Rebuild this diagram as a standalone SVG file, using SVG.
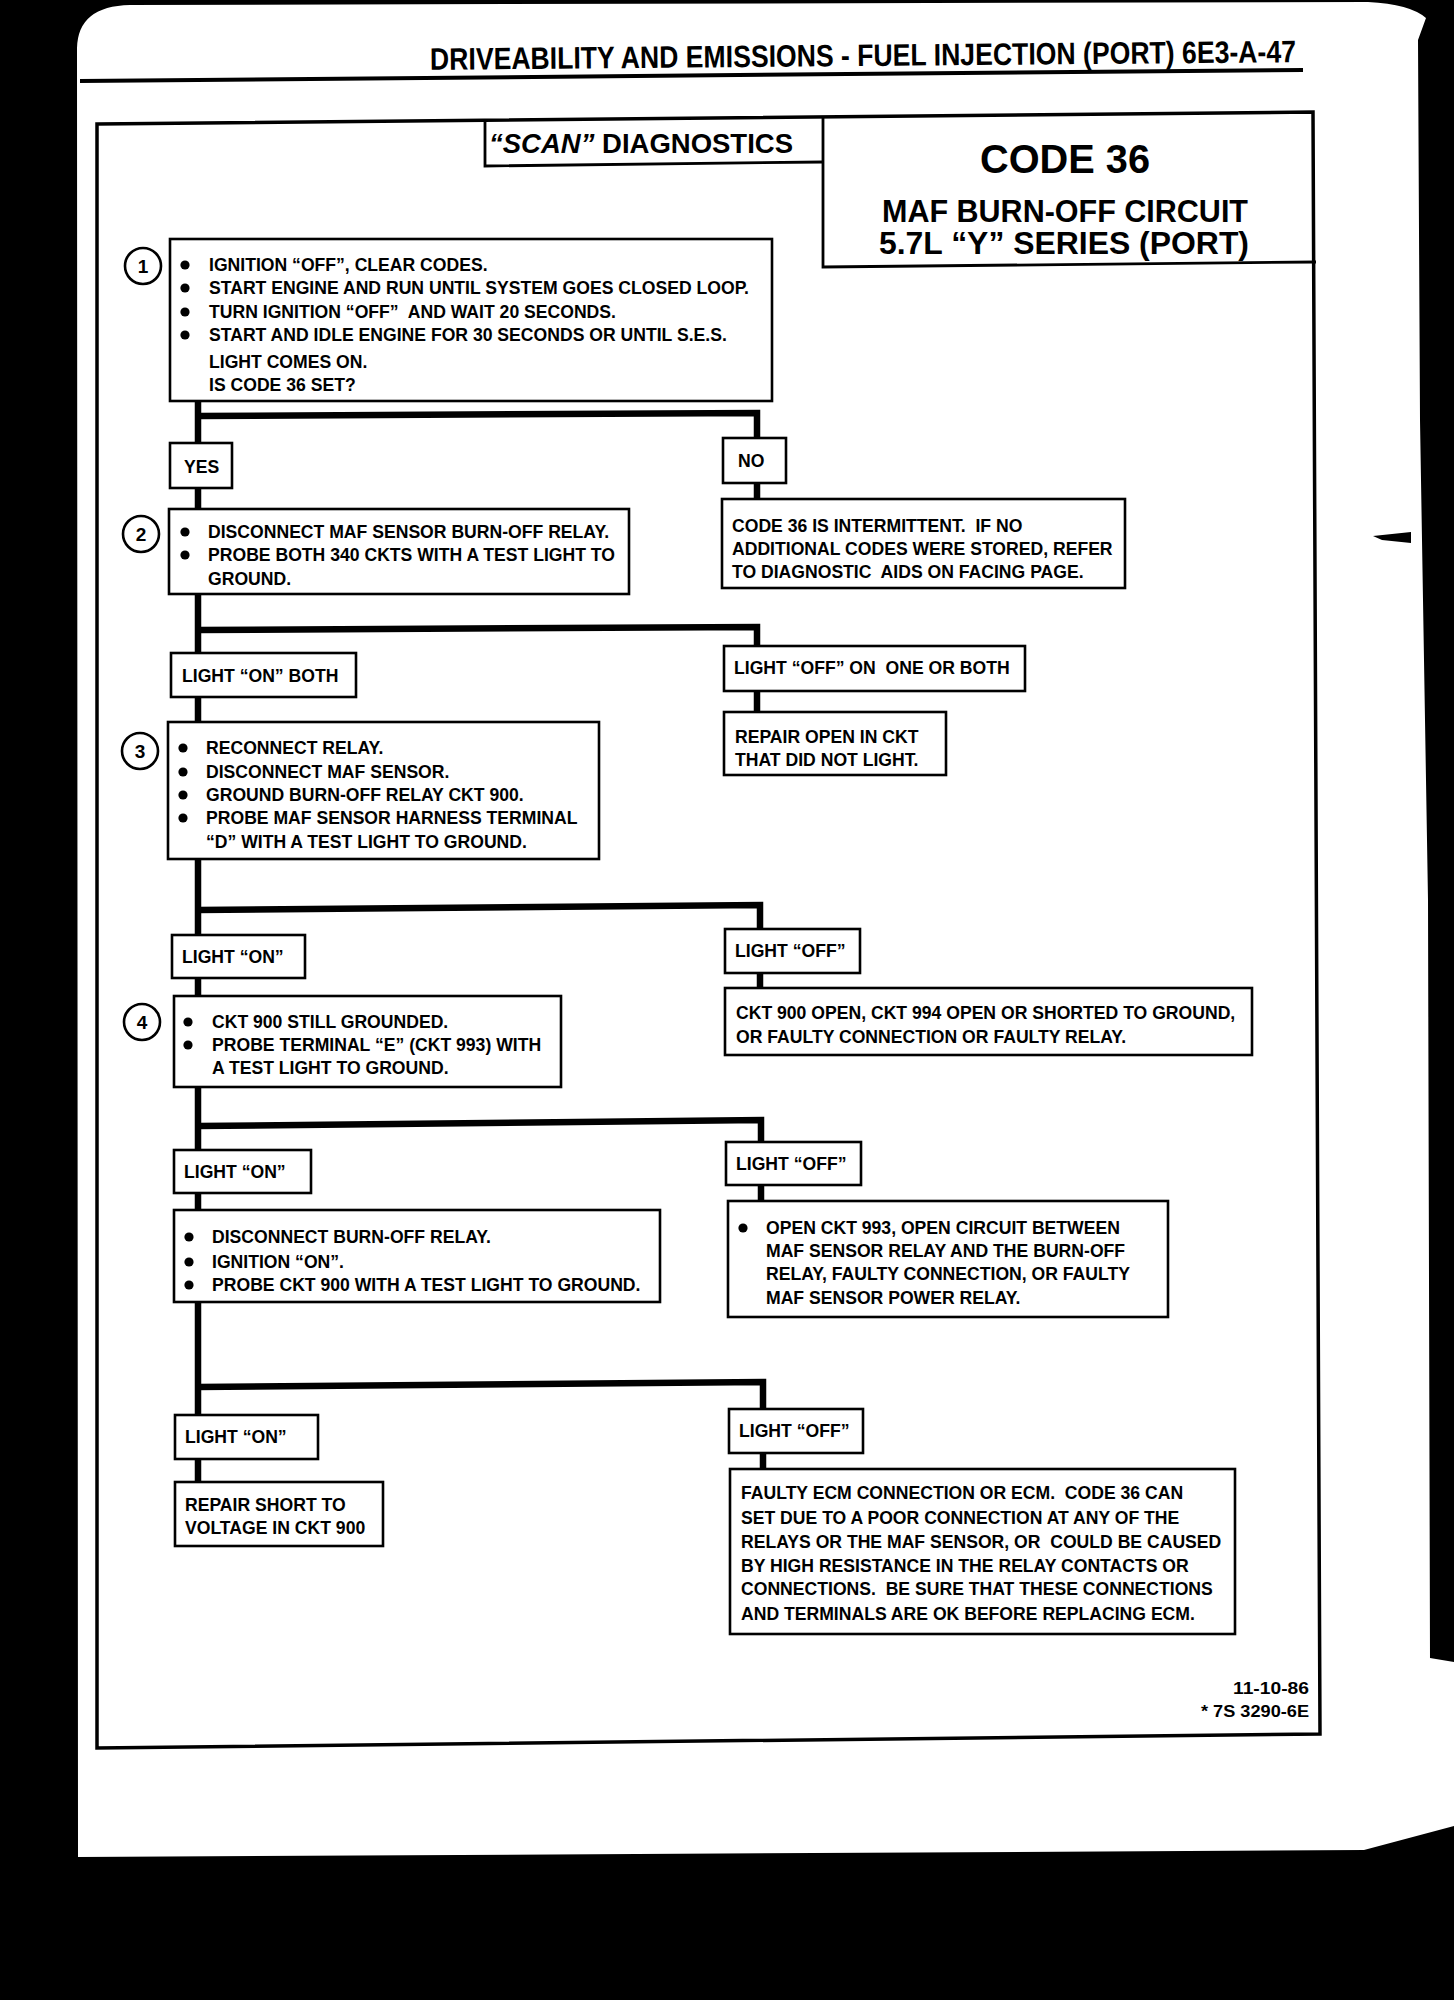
<svg xmlns="http://www.w3.org/2000/svg" xmlns:xlink="http://www.w3.org/1999/xlink" width="1454" height="2000" viewBox="0 0 1454 2000">
<style>
.t{font-family:"Liberation Sans",Arial,sans-serif;font-weight:bold;font-size:17.6px;fill:#000}
.n{font-family:"Liberation Sans",Arial,sans-serif;font-weight:bold;font-size:19px;fill:#000;text-anchor:middle}
.box{fill:#fff;stroke:#000;stroke-width:2.6}
.ring{fill:#fff;stroke:#000;stroke-width:2.6}
.conn{fill:none;stroke:#000;stroke-width:6.5;stroke-linejoin:miter;stroke-linecap:butt}
.rule{fill:none;stroke:#000}
</style>
<defs>
<circle id="bul" r="4.6" fill="#000"/>
</defs>
<rect x="0" y="0" width="1454" height="2000" fill="#000"/>
<path d="M77,48 Q78,6 130,5 L1368,2 Q1410,4 1426,18 L1418,40 L1420,420 L1428,900 L1430,1658 L1454,1662 L1454,1826 L1364,1850 L78,1857 Z" fill="#fff"/>
<polygon points="1373,536 1411,532 1411,543 1382,540" fill="#000"/>

<g id="header">
<text class="t" x="430" y="66" style="font-size:31px" textLength="866" lengthAdjust="spacingAndGlyphs" transform="rotate(-0.5 865 62)">DRIVEABILITY AND EMISSIONS - FUEL INJECTION (PORT)  6E3-A-47</text>
<line class="rule" x1="80" y1="81" x2="1303" y2="70" stroke-width="4"/>
</g>

<g id="frame">
<polygon points="97,124 1313,112 1320,1734 97,1748" fill="none" stroke="#000" stroke-width="3.5"/>
</g>

<g id="title-scan">
<path class="rule" d="M485,119 L485,166 L823,162" stroke-width="2.8"/>
<text class="t" x="489" y="153" style="font-size:27px" textLength="304" lengthAdjust="spacingAndGlyphs"><tspan font-style="italic">“SCAN”</tspan> DIAGNOSTICS</text>
</g>

<g id="title-code">
<path class="rule" d="M823,116 L823,267 L1316,262" stroke-width="2.8"/>
<text class="t" x="980" y="173" style="font-size:41px" textLength="170" lengthAdjust="spacingAndGlyphs">CODE 36</text>
<text class="t" x="882" y="222" style="font-size:32px" textLength="366" lengthAdjust="spacingAndGlyphs">MAF BURN-OFF CIRCUIT</text>
<text class="t" x="879" y="254" style="font-size:31px" textLength="370" lengthAdjust="spacingAndGlyphs">5.7L “Y” SERIES (PORT)</text>
</g>

<g id="connectors">
<polyline class="conn" points="198,400 198,1483"/>
<polyline class="conn" points="198,416 757,413 757,500"/>
<polyline class="conn" points="198,630 757,627 757,713"/>
<polyline class="conn" points="198,910 760,905 760,989"/>
<polyline class="conn" points="198,1126 761,1120 761,1202"/>
<polyline class="conn" points="198,1387 763,1382 763,1470"/>
</g>

<g id="step1">
<circle class="ring" cx="143" cy="266" r="18"/>
<text class="n" x="143" y="273">1</text>
<rect class="box" x="170" y="239" width="602" height="162"/>
<use href="#bul" x="185" y="265"/><use href="#bul" x="185" y="288"/><use href="#bul" x="185" y="312"/><use href="#bul" x="185" y="335"/>
<text class="t" x="209" y="271">IGNITION “OFF”, CLEAR CODES.</text>
<text class="t" x="209" y="294" textLength="540" lengthAdjust="spacingAndGlyphs">START ENGINE AND RUN UNTIL SYSTEM GOES CLOSED LOOP.</text>
<text class="t" x="209" y="318" xml:space="preserve">TURN IGNITION “OFF”  AND WAIT 20 SECONDS.</text>
<text class="t" x="209" y="341">START AND IDLE ENGINE FOR 30 SECONDS OR UNTIL S.E.S.</text>
<text class="t" x="209" y="368">LIGHT COMES ON.</text>
<text class="t" x="209" y="391">IS CODE 36 SET?</text>
</g>

<g id="yes1">
<rect class="box" x="170" y="443" width="62" height="45"/>
<text class="t" x="184" y="473">YES</text>
</g>
<g id="no1">
<rect class="box" x="723" y="438" width="63" height="45"/>
<text class="t" x="738" y="467">NO</text>
</g>
<g id="intermittent">
<rect class="box" x="722" y="499" width="403" height="89"/>
<text class="t" x="732" y="532" xml:space="preserve">CODE 36 IS INTERMITTENT.  IF NO</text>
<text class="t" x="732" y="555">ADDITIONAL CODES WERE STORED, REFER</text>
<text class="t" x="732" y="578" xml:space="preserve">TO DIAGNOSTIC  AIDS ON FACING PAGE.</text>
</g>

<g id="step2">
<circle class="ring" cx="141" cy="534" r="18"/>
<text class="n" x="141" y="541">2</text>
<rect class="box" x="169" y="509" width="460" height="85"/>
<use href="#bul" x="185" y="532"/><use href="#bul" x="185" y="555"/>
<text class="t" x="208" y="538">DISCONNECT MAF SENSOR BURN-OFF RELAY.</text>
<text class="t" x="208" y="561">PROBE BOTH 340 CKTS WITH A TEST LIGHT TO</text>
<text class="t" x="208" y="585">GROUND.</text>
</g>

<g id="on2">
<rect class="box" x="171" y="653" width="185" height="44"/>
<text class="t" x="182" y="682">LIGHT “ON” BOTH</text>
</g>
<g id="off2">
<rect class="box" x="724" y="646" width="301" height="45"/>
<text class="t" x="734" y="674" xml:space="preserve">LIGHT “OFF” ON  ONE OR BOTH</text>
</g>
<g id="repair-open">
<rect class="box" x="724" y="712" width="222" height="63"/>
<text class="t" x="735" y="743">REPAIR OPEN IN CKT</text>
<text class="t" x="735" y="766">THAT DID NOT LIGHT.</text>
</g>

<g id="step3">
<circle class="ring" cx="140" cy="751" r="18"/>
<text class="n" x="140" y="758">3</text>
<rect class="box" x="168" y="722" width="431" height="137"/>
<use href="#bul" x="183" y="748"/><use href="#bul" x="183" y="772"/><use href="#bul" x="183" y="795"/><use href="#bul" x="183" y="818"/>
<text class="t" x="206" y="754">RECONNECT RELAY.</text>
<text class="t" x="206" y="778">DISCONNECT MAF SENSOR.</text>
<text class="t" x="206" y="801">GROUND BURN-OFF RELAY CKT 900.</text>
<text class="t" x="206" y="824">PROBE MAF SENSOR HARNESS TERMINAL</text>
<text class="t" x="206" y="848">“D” WITH A TEST LIGHT TO GROUND.</text>
</g>

<g id="on3">
<rect class="box" x="172" y="935" width="133" height="43"/>
<text class="t" x="182" y="963">LIGHT “ON”</text>
</g>
<g id="off3">
<rect class="box" x="725" y="929" width="135" height="44"/>
<text class="t" x="735" y="957">LIGHT “OFF”</text>
</g>
<g id="ckt900-open">
<rect class="box" x="725" y="988" width="527" height="67"/>
<text class="t" x="736" y="1019">CKT 900 OPEN, CKT 994 OPEN OR SHORTED TO GROUND,</text>
<text class="t" x="736" y="1043">OR FAULTY CONNECTION OR FAULTY RELAY.</text>
</g>

<g id="step4">
<circle class="ring" cx="142" cy="1022" r="18"/>
<text class="n" x="142" y="1029">4</text>
<rect class="box" x="174" y="996" width="387" height="91"/>
<use href="#bul" x="188" y="1022"/><use href="#bul" x="188" y="1045"/>
<text class="t" x="212" y="1028">CKT 900 STILL GROUNDED.</text>
<text class="t" x="212" y="1051">PROBE TERMINAL “E” (CKT 993) WITH</text>
<text class="t" x="212" y="1074">A TEST LIGHT TO GROUND.</text>
</g>

<g id="on4">
<rect class="box" x="174" y="1150" width="137" height="43"/>
<text class="t" x="184" y="1178">LIGHT “ON”</text>
</g>
<g id="off4">
<rect class="box" x="726" y="1142" width="135" height="43"/>
<text class="t" x="736" y="1170">LIGHT “OFF”</text>
</g>
<g id="step5">
<rect class="box" x="174" y="1210" width="486" height="92"/>
<use href="#bul" x="189" y="1237"/><use href="#bul" x="189" y="1262"/><use href="#bul" x="189" y="1285"/>
<text class="t" x="212" y="1243">DISCONNECT BURN-OFF RELAY.</text>
<text class="t" x="212" y="1268">IGNITION “ON”.</text>
<text class="t" x="212" y="1291">PROBE CKT 900 WITH A TEST LIGHT TO GROUND.</text>
</g>
<g id="open-ckt993">
<rect class="box" x="728" y="1201" width="440" height="116"/>
<use href="#bul" x="743" y="1228"/>
<text class="t" x="766" y="1234">OPEN CKT 993, OPEN CIRCUIT BETWEEN</text>
<text class="t" x="766" y="1257">MAF SENSOR RELAY AND THE BURN-OFF</text>
<text class="t" x="766" y="1280">RELAY, FAULTY CONNECTION, OR FAULTY</text>
<text class="t" x="766" y="1304">MAF SENSOR POWER RELAY.</text>
</g>

<g id="on5">
<rect class="box" x="175" y="1415" width="143" height="44"/>
<text class="t" x="185" y="1443">LIGHT “ON”</text>
</g>
<g id="off5">
<rect class="box" x="729" y="1409" width="134" height="44"/>
<text class="t" x="739" y="1437">LIGHT “OFF”</text>
</g>
<g id="repair-short">
<rect class="box" x="175" y="1482" width="208" height="64"/>
<text class="t" x="185" y="1511">REPAIR SHORT TO</text>
<text class="t" x="185" y="1534">VOLTAGE IN CKT 900</text>
</g>
<g id="faulty-ecm">
<rect class="box" x="730" y="1469" width="505" height="165"/>
<text class="t" x="741" y="1499" xml:space="preserve">FAULTY ECM CONNECTION OR ECM.  CODE 36 CAN</text>
<text class="t" x="741" y="1524">SET DUE TO A POOR CONNECTION AT ANY OF THE</text>
<text class="t" x="741" y="1548" xml:space="preserve">RELAYS OR THE MAF SENSOR, OR  COULD BE CAUSED</text>
<text class="t" x="741" y="1572">BY HIGH RESISTANCE IN THE RELAY CONTACTS OR</text>
<text class="t" x="741" y="1595" xml:space="preserve">CONNECTIONS.  BE SURE THAT THESE CONNECTIONS</text>
<text class="t" x="741" y="1620">AND TERMINALS ARE OK BEFORE REPLACING ECM.</text>
</g>

<g id="footer">
<text class="t" x="1309" y="1694" style="font-size:17px" text-anchor="end" textLength="76" lengthAdjust="spacingAndGlyphs">11-10-86</text>
<text class="t" x="1309" y="1717" style="font-size:17px" text-anchor="end" textLength="108" lengthAdjust="spacingAndGlyphs">* 7S 3290-6E</text>
</g>
</svg>
